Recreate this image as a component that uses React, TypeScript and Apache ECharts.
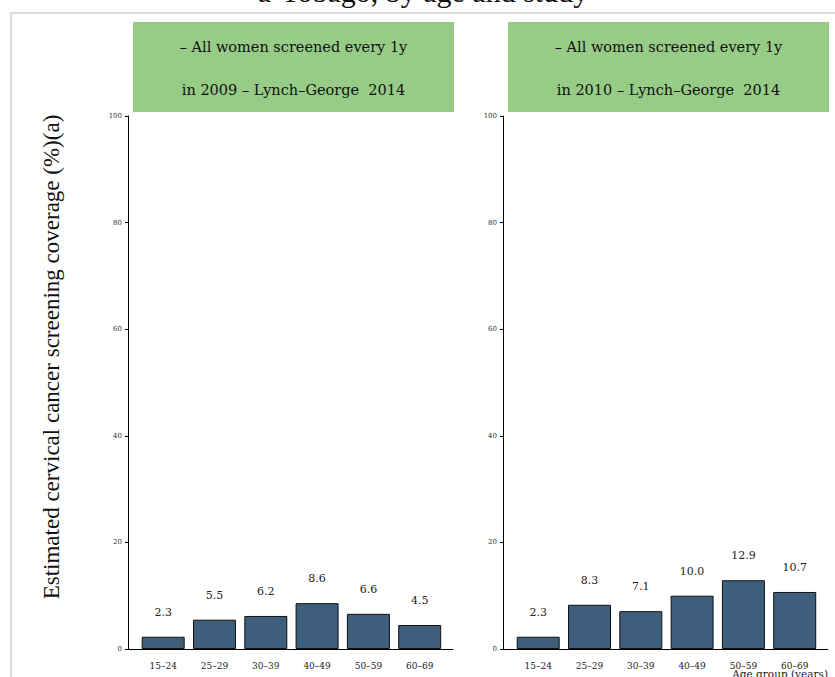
import React, { useEffect, useRef } from "react";
import * as echarts from "echarts";

const categories = ["15–24", "25–29", "30–39", "40–49", "50–59", "60–69"];
const values2009 = [2.3, 5.5, 6.2, 8.6, 6.6, 4.5];
const values2010 = [2.3, 8.3, 7.1, 10.0, 12.9, 10.7];
const panelLine1 = ["– All women screened every 1y", "– All women screened every 1y"];
const panelLine2 = ["in 2009 – Lynch–George  2014", "in 2010 – Lynch–George  2014"];
const titleText = "a-Tobago, by age and study";
const yTitle = "Estimated cervical cancer screening coverage (%)(a)";
const xTitle = "Age group (years)";

const SERIF = "DejaVu Serif";
const TIMES = "Liberation Serif";
const gridLefts = [128, 503];
const GRID_W = 325;
const GRID_TOP = 116;
const GRID_H = 533;
const XMIN = -0.686;
const XMAX = 5.649;

export default function App() {
  const ref = useRef<HTMLDivElement>(null);
  useEffect(() => {
    if (!ref.current) return;
    const chart = echarts.init(ref.current, null, { renderer: "svg" });
    const seriesData = [values2009, values2010];
    const graphic: any[] = [
      {
        type: "rect",
        shape: { x: 11, y: 13, width: 900, height: 900 },
        style: { fill: "none", stroke: "#dddddd", lineWidth: 2 },
        silent: true,
      },
      {
        type: "text",
        x: 423,
        y: -9,
        style: {
          text: titleText,
          fontFamily: TIMES,
          fontSize: 30,
          fill: "#111",
          align: "center",
          verticalAlign: "middle",
        },
      },
      {
        type: "text",
        x: 51,
        y: 357,
        rotation: Math.PI / 2,
        style: {
          text: yTitle,
          fontFamily: TIMES,
          fontSize: 23,
          fill: "#111",
          align: "center",
          verticalAlign: "middle",
        },
      },
      {
        type: "text",
        x: 828,
        y: 668,
        style: {
          text: xTitle,
          fontFamily: SERIF,
          fontSize: 10.5,
          fill: "#222",
          align: "right",
          verticalAlign: "top",
        },
      },
    ];
    gridLefts.forEach((gl, i) => {
      const bx = gl + 5;
      const bw = GRID_W - 4;
      graphic.push({
        type: "rect",
        shape: { x: bx, y: 22, width: bw, height: 90 },
        style: { fill: "#97cc87" },
      });
      graphic.push({
        type: "text",
        x: bx + bw / 2,
        y: 47,
        style: {
          text: panelLine1[i],
          fontFamily: SERIF,
          fontSize: 14.5,
          fill: "#111",
          align: "center",
          verticalAlign: "middle",
        },
      });
      graphic.push({
        type: "text",
        x: bx + bw / 2,
        y: 90,
        style: {
          text: panelLine2[i],
          fontFamily: SERIF,
          fontSize: 14.5,
          fill: "#111",
          align: "center",
          verticalAlign: "middle",
        },
      });
    });

    chart.setOption({
      animation: false,
      backgroundColor: "#ffffff",
      grid: gridLefts.map((gl) => ({
        left: gl,
        top: GRID_TOP,
        width: GRID_W,
        height: GRID_H,
        containLabel: false,
      })),
      xAxis: gridLefts.map((_, i) => ({
        type: "value",
        gridIndex: i,
        min: XMIN,
        max: XMAX,
        axisLine: { show: true, onZero: false, lineStyle: { color: "#000", width: 1 } },
        axisTick: { show: false },
        splitLine: { show: false },
        axisLabel: {
          customValues: [0, 1, 2, 3, 4, 5],
          formatter: (v: number) => categories[Math.round(v)] ?? "",
          fontSize: 9,
          fontFamily: SERIF,
          color: "#222",
          margin: 12,
        },
      })),
      yAxis: gridLefts.map((_, i) => ({
        type: "value",
        gridIndex: i,
        min: 0,
        max: 100,
        interval: 20,
        axisLine: { show: true, onZero: false, lineStyle: { color: "#000", width: 1 } },
        axisTick: { show: true, length: 3, lineStyle: { color: "#000" } },
        splitLine: { show: false },
        axisLabel: {
          fontSize: 7,
          fontFamily: SERIF,
          color: "#333",
          margin: 6,
        },
      })),
      series: seriesData.map((vals, i) => ({
        type: "bar",
        xAxisIndex: i,
        yAxisIndex: i,
        data: vals.map((v, j) => [j, v]),
        barWidth: 43,
        itemStyle: { color: "#3e5f7b", borderColor: "#111", borderWidth: 1 },
        label: {
          show: true,
          position: "top",
          distance: 19,
          fontSize: 11,
          fontFamily: SERIF,
          color: "#222",
          formatter: (p: any) => Number(p.value[1]).toFixed(1),
        },
      })),
      graphic,
    });
    return () => chart.dispose();
  }, []);
  return (
    <div
      ref={ref}
      style={{ position: "fixed", left: 0, top: 0, width: 835, height: 677 }}
    />
  );
}
